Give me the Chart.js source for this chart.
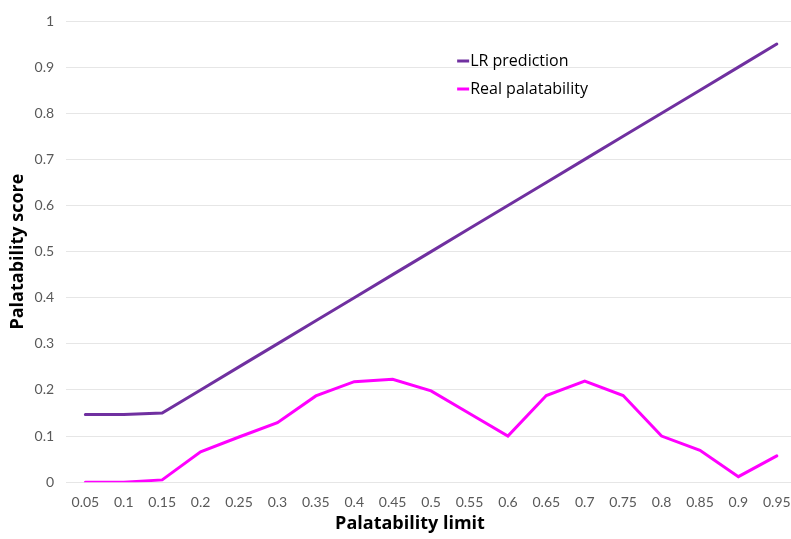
<!DOCTYPE html>
<html>
<head>
<meta charset="utf-8">
<script src="https://cdn.jsdelivr.net/npm/chart.js@4.4.1/dist/chart.umd.min.js"></script>
<style>
  html, body { margin: 0; padding: 0; background: #fff; overflow: hidden; }
</style>
</head>
<body>
<canvas id="palatability-chart" width="796" height="539"></canvas>
<script>
var limits = ['0.05', '0.1', '0.15', '0.2', '0.25', '0.3', '0.35', '0.4', '0.45', '0.5',
              '0.55', '0.6', '0.65', '0.7', '0.75', '0.8', '0.85', '0.9', '0.95'];
var lrPrediction = [0.147, 0.147, 0.15, 0.2, 0.25, 0.3, 0.35, 0.4, 0.45, 0.5,
                    0.55, 0.6, 0.65, 0.7, 0.75, 0.8, 0.85, 0.9, 0.95];
var realPalatability = [0, 0, 0.005, 0.066, 0.098, 0.129, 0.187, 0.218, 0.223, 0.198,
                        0.149, 0.1, 0.188, 0.219, 0.188, 0.1, 0.069, 0.012, 0.057];
var seriesNames = ['LR prediction', 'Real palatability'];
var xTitle = 'Palatability limit';

// legend drawn inside the plot + x title centred on the whole chart (excel style)
var excelBits = {
  id: 'excelBits',
  afterDraw: function(chart) {
    var ctx = chart.ctx, area = chart.chartArea;
    var x = area.left + 391, y = area.top + 40;
    ctx.save();
    ctx.font = '16px "Open Sans", sans-serif';
    ctx.textBaseline = 'middle';
    chart.data.datasets.forEach(function(ds, i) {
      var yy = y + i * 28;
      ctx.strokeStyle = ds.borderColor;
      ctx.lineWidth = 3;
      ctx.beginPath();
      ctx.moveTo(x, yy);
      ctx.lineTo(x + 12, yy);
      ctx.stroke();
      ctx.fillStyle = '#000';
      ctx.fillText(ds.label, x + 13, yy);
    });
    ctx.font = 'bold 18px "Open Sans", sans-serif';
    ctx.textAlign = 'center';
    ctx.fillText(xTitle, 410, 524);
    ctx.restore();
  }
};

(function() {
  var ctx = document.getElementById('palatability-chart').getContext('2d');
  new Chart(ctx, {
    type: 'line',
    data: {
      labels: limits,
      datasets: [
        {
          label: seriesNames[0],
          data: lrPrediction,
          borderColor: '#7030A0',
          borderWidth: 3,
          pointRadius: 0,
          tension: 0,
          borderCapStyle: 'round'
        },
        {
          label: seriesNames[1],
          data: realPalatability,
          borderColor: '#FF00FF',
          borderWidth: 3,
          pointRadius: 0,
          tension: 0,
          borderCapStyle: 'round'
        }
      ]
    },
    options: {
      responsive: false,
      animation: false,
      layout: { padding: { top: 21, right: 0, left: 1, bottom: 16 } },
      plugins: {
        legend: { display: false },
        tooltip: { enabled: false }
      },
      scales: {
        x: {
          offset: true,
          grid: { display: false, drawTicks: false },
          border: { display: false },
          ticks: {
            color: '#595959',
            font: { size: 14, lineHeight: 2.2, family: 'Lato, "Open Sans", sans-serif' },
            padding: 5,
            maxRotation: 0,
            autoSkip: false
          }
        },
        y: {
          min: 0,
          max: 1,
          grid: { color: '#e6e6e6', drawTicks: false, lineWidth: 1 },
          border: { display: false },
          ticks: {
            stepSize: 0.1,
            color: '#595959',
            font: { size: 14, family: 'Lato, "Open Sans", sans-serif' },
            padding: 12,
            callback: function(v) { return String(+v.toFixed(2)); }
          },
          title: {
            display: true,
            text: 'Palatability score',
            color: '#000',
            font: { size: 18, weight: 'bold', family: '"Open Sans", sans-serif' },
            padding: { top: 6, bottom: -6 }
          }
        }
      }
    },
    plugins: [excelBits]
  });
})();
</script>
</body>
</html>
